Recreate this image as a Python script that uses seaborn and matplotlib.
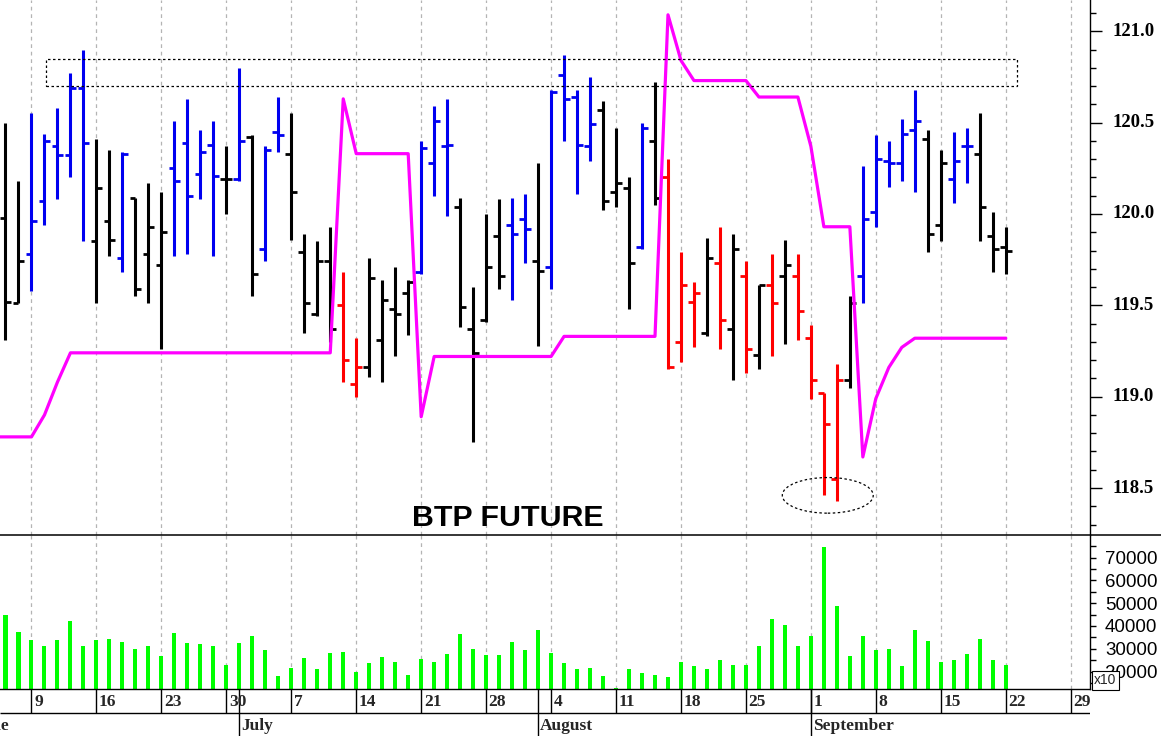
import numpy as np
import pandas as pd
import matplotlib
matplotlib.use("Agg")
import matplotlib.pyplot as plt
import seaborn as sns
from matplotlib.patches import Rectangle, Ellipse
from matplotlib.lines import Line2D
from matplotlib.ticker import MultipleLocator
from matplotlib.transforms import blended_transform_factory

# trading days shown: 5 Jun .. 22 Sep (index 0 = 5 Jun)
days = pd.bdate_range("2014-06-05", "2014-09-22")

high = [120.50, 120.18, 120.55, 120.44, 120.58, 120.77, 120.90, 120.41, 120.35, 120.34,
        120.09, 120.17, 120.12, 120.51, 120.63, 120.46, 120.51, 120.37, 120.80, 120.43,
        120.37, 120.64, 120.55, 119.89, 119.85, 119.93, 119.68, 119.32, 119.76, 119.64,
        119.71, 119.64, 120.40, 120.59, 120.63, 120.09, 119.60, 120.00, 120.08, 120.09,
        120.11, 120.28, 120.68, 120.87, 120.68, 120.75, 120.62, 120.47, 120.20, 120.50,
        120.72, 120.30, 119.79, 119.63, 119.87, 119.93, 119.89, 119.74, 119.61, 119.78,
        119.86, 119.78, 119.39, 119.02, 119.18, 119.55, 120.26, 120.43, 120.40, 120.52,
        120.68, 120.46, 120.35, 120.45, 120.47, 120.55, 120.01, 119.93]
low = [119.31, 119.51, 119.58, 119.94, 120.08, 120.20, 119.85, 119.51, 119.77, 119.68,
       119.55, 119.51, 119.26, 119.77, 119.78, 120.08, 119.77, 120.00, 120.18, 119.55,
       119.74, 120.34, 119.86, 119.35, 119.44, 119.30, 119.08, 119.00, 119.11, 119.08,
       119.22, 119.34, 119.67, 120.10, 119.99, 119.38, 118.75, 119.41, 119.59, 119.53,
       119.73, 119.28, 119.59, 120.40, 120.11, 120.29, 120.02, 120.04, 119.48, 119.81,
       120.05, 119.15, 119.19, 119.27, 119.33, 119.26, 119.09, 119.13, 119.15, 119.22,
       119.29, 119.31, 118.99, 118.46, 118.43, 119.05, 119.51, 119.93, 120.15, 120.18,
       120.12, 119.79, 119.85, 120.06, 120.17, 119.85, 119.68, 119.67]
opn = [119.98, 119.51, 119.78, 120.07, 120.37, 120.32, 120.69, 119.85, 119.96, 119.76,
       120.09, 119.78, 119.72, 120.25, 120.39, 120.22, 120.38, 120.19, 120.19, 120.42,
       119.81, 120.45, 120.33, 119.79, 119.45, 119.74, 119.50, 119.07, 119.16, 119.31,
       119.48, 119.57, 119.68, 120.28, 120.37, 120.04, 119.37, 119.42, 119.88, 119.94,
       119.97, 119.74, 119.71, 120.76, 120.64, 120.37, 120.57, 120.12, 120.14, 119.82,
       120.40, 120.20, 119.30, 119.52, 119.35, 119.73, 119.37, 119.66, 119.23, 119.61,
       119.66, 119.66, 119.32, 119.02, 118.55, 119.09, 119.66, 120.01, 120.29, 120.28,
       120.46, 120.41, 119.94, 120.19, 120.37, 120.33, 119.88, 119.82]
cls = [119.52, 119.74, 119.96, 120.40, 120.32, 120.69, 120.39, 120.14, 119.86, 120.33,
       119.59, 119.93, 119.90, 120.18, 120.10, 120.34, 120.21, 120.19, 120.40, 119.67,
       120.35, 120.43, 120.12, 119.51, 119.74, 119.37, 119.20, 119.16, 119.65, 119.53,
       119.45, 119.63, 120.36, 120.51, 120.38, 119.49, 119.24, 119.71, 119.66, 119.89,
       119.92, 119.69, 120.67, 120.63, 120.38, 120.49, 120.07, 120.17, 119.73, 120.47,
       120.09, 119.16, 119.61, 119.57, 119.76, 119.42, 119.81, 119.26, 119.61, 119.51,
       119.72, 119.47, 119.09, 118.85, 119.09, 119.51, 119.97, 120.30, 120.28, 120.44,
       120.51, 119.89, 120.28, 120.29, 120.37, 120.04, 119.81, 119.80]
# bar colour: k = neutral, b = up trend, r = down trend
trend = list("kkbbbbbkkb" "kkkbbbbkbk" "bbkkkkrrkk" "kkbbbkkkkb"
             "bkbbbbkkkb" "krrrkrkrkr" "krrrrkbbbb" "bkkbbkkk")

volume = [44950, 37340, 33640, 31180, 33820, 42000, 31180, 33820, 34260, 32940,
          29990, 31180, 26780, 36900, 32500, 31880, 31180, 22950, 32500, 35580,
          29240, 18100, 21760, 26160, 21060, 28100, 28540, 19740, 23700, 26340,
          24270, 18550, 25460, 24270, 27660, 36280, 29860, 27220, 27350, 33070,
          29420, 38220, 28000, 23700, 21060, 21760, 17980, 12960, 21060, 19300,
          18550, 17540, 24140, 22380, 21060, 25150, 22950, 22950, 31310, 43060,
          40550, 31310, 35580, 74740, 48900, 26900, 35700, 29400, 29990, 22500,
          38350, 33200, 24270, 25020, 27480, 34390, 25020, 22950]

# magenta stop line, starts one day earlier (4 Jun) off the left edge
stop_idx = list(range(-1, 78))
stop = [118.78, 118.78, 118.78, 118.78, 118.90, 119.08, 119.24, 119.24,
        119.24, 119.24, 119.24, 119.24, 119.24, 119.24, 119.24, 119.24, 119.24, 119.24, 119.24,
        119.24, 119.24, 119.24, 119.24, 119.24, 119.24, 119.24, 119.24, 120.63,
        120.33, 120.33, 120.33, 120.33, 120.33, 118.89, 119.22, 119.22, 119.22, 119.22,
        119.22, 119.22, 119.22, 119.22,
        119.22, 119.22, 119.33, 119.33, 119.33, 119.33, 119.33, 119.33, 119.33, 119.33,
        121.09, 120.84, 120.73, 120.73, 120.73, 120.73, 120.73, 120.64, 120.64, 120.64, 120.64,
        120.37, 119.93, 119.93, 119.93, 118.67, 118.99, 119.16, 119.27, 119.32, 119.32,
        119.32, 119.32, 119.32, 119.32, 119.32, 119.32]

price_ticks = [118.5, 119.0, 119.5, 120.0, 120.5, 121.0]
monday_idx = [2, 7, 12, 17, 22, 27, 32, 37, 42, 47, 52, 57, 62, 67, 72, 77, 82]
monday_lbl = ["9", "16", "23", "30", "7", "14", "21", "28", "4", "11", "18", "25",
              "1", "8", "15", "22", "29"]
month_idx = [-2.6, 18, 41, 62]
month_lbl = ["June", "July", "August", "September"]

# resistance box and the circled low
zone_x = (3.09, 77.84)
zone_y = (120.70, 120.85)
low_mark = (63.3, 118.46, 7.0, 0.195)

df = pd.DataFrame({"i": np.arange(len(days)), "high": high, "low": low,
                   "open": opn, "close": cls, "trend": trend, "volume": volume})

sns.set_theme(style="white")
plt.rcParams["font.family"] = ["Liberation Sans", "DejaVu Sans"]

W, H = 1161, 736
fig = plt.figure(figsize=(W / 100, H / 100), dpi=100)
axp = fig.add_axes([0, 1 - 535 / H, 1090 / W, 535 / H])
axv = fig.add_axes([0, 1 - 689 / H, 1090 / W, (689 - 535) / H])
axd = fig.add_axes([0, 0, 1090 / W, (736 - 689) / H])

xlim = (-5.5 / 12.99, (1090 - 5.5) / 12.99)

# price bars
pal = {"k": "black", "b": "#0000f0", "r": "#ff0000"}
for code, col in pal.items():
    d = df[df["trend"] == code]
    axp.vlines(d["i"], d["low"], d["high"], color=col, lw=2.2, zorder=3)
    axp.hlines(d["open"], d["i"] - 0.45, d["i"], color=col, lw=2.0, zorder=3)
    axp.hlines(d["close"], d["i"], d["i"] + 0.45, color=col, lw=2.0, zorder=3)

sns.lineplot(x=stop_idx, y=stop, ax=axp, color="#ff00ff", lw=2.3, zorder=4)

axp.add_patch(Rectangle((zone_x[0], zone_y[0]), zone_x[1] - zone_x[0], zone_y[1] - zone_y[0],
                        fill=False, ec="black", lw=0.9, ls=(0, (2, 2)), zorder=5))
axp.add_patch(Ellipse(low_mark[:2], low_mark[2], low_mark[3], fill=False, ec="black",
                      lw=0.9, ls=(0, (2, 2)), zorder=5))

axp.set_xlim(*xlim)
axp.set_ylim(118.243, 121.171)
axp.yaxis.tick_right()
axp.set_yticks(price_ticks)
axp.yaxis.set_minor_locator(MultipleLocator(0.1))
axp.tick_params(axis="y", which="major", direction="out", length=8.6, width=1,
                color="black", labelright=False, labelleft=False)
axp.tick_params(axis="y", which="minor", direction="out", length=4.3, width=1, color="black")
lab_tr = blended_transform_factory(axp.transAxes, axp.transData)
for v in price_ticks:
    axp.text(1113 / 1090, v, f"{v:.1f}", transform=lab_tr, ha="left", va="center",
             fontsize=13.5, fontweight="bold", fontfamily="Liberation Serif",
             color="black", clip_on=False)

# volume
sns.barplot(data=df, x="i", y="volume", ax=axv, native_scale=True, color="#00ff00",
            saturation=1, width=0.31, errorbar=None, linewidth=0)
axv.set_xlim(*xlim)
axv.set_ylim(12350, 79880)
axv.yaxis.tick_right()
axv.yaxis.set_major_locator(MultipleLocator(10000))
axv.yaxis.set_minor_locator(MultipleLocator(5000))
axv.tick_params(axis="y", which="both", direction="out", length=4.3, width=1, pad=6.5,
                labelsize=13.5, color="black", labelcolor="black")

for ax in (axp, axv):
    ax.set_xlabel("")
    ax.set_ylabel("")
    ax.set_xticks(monday_idx)
    ax.tick_params(axis="x", length=0, labelbottom=False)
    ax.xaxis.grid(True, color="#b4b4b4", lw=0.9, ls=(0, (3, 3)))
    ax.set_axisbelow(True)
    for s in ["left", "top", "bottom"]:
        ax.spines[s].set_visible(False)
    ax.spines["right"].set_color("black")
    ax.spines["right"].set_linewidth(1)
axv.spines["bottom"].set_visible(True)
axv.spines["bottom"].set_color("black")
axv.spines["bottom"].set_linewidth(1)

# date rows
axd.set_xlim(*xlim)
axd.set_ylim(0, 47)
axd.axis("off")
axd.hlines([23], xlim[0], xlim[1], color="black", lw=1)
axd.vlines(monday_idx, 23, 47, color="black", lw=1)
axd.vlines(month_idx, 0, 47, color="black", lw=1)
for m, lbl in zip(monday_idx, monday_lbl):
    axd.text(m + 0.2, 34.5, lbl, ha="left", va="center", fontsize=12.5, fontweight="bold",
             fontfamily="Liberation Serif", clip_on=True)
for m, lbl in zip(month_idx, month_lbl):
    axd.text(m + 0.15, 10, lbl, ha="left", va="center", fontsize=12.5, fontweight="bold",
             fontfamily="Liberation Serif", clip_on=True)

fig.add_artist(Line2D([0, 1], [1 - 535 / H] * 2, color="black", lw=1.1))
fig.text(507.5 / W, 1 - 517.7 / H, "BTP FUTURE", ha="center", va="center", fontsize=21.8,
         fontweight="bold", color="black")
fig.text(1105.5 / W, 1 - 680.5 / H, "x10", ha="center", va="center", fontsize=10,
         bbox=dict(boxstyle="square,pad=0.15", fc="white", ec="black", lw=0.8), zorder=10)

fig.savefig("out.png", dpi=100)
